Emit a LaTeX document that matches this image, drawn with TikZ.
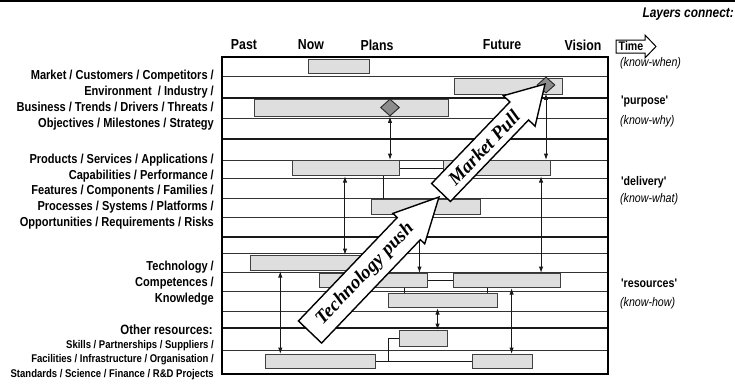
\documentclass[tikz,border=0pt]{standalone}
\usepackage{fontspec}
\setmainfont{Liberation Serif}
\newfontfamily\narrow[FakeStretch=0.85]{Liberation Sans}
\usetikzlibrary{calc,shapes.geometric,arrows.meta}

\begin{document}
\begin{tikzpicture}[x=1pt,y=-1pt,
  lbl/.style={font=\narrow\bfseries\fontsize{13}{15.8}\selectfont, align=right, anchor=east, inner sep=0},
  small/.style={font=\narrow\bfseries\fontsize{11.2}{14.3}\selectfont, align=right, anchor=east, inner sep=0},
  head/.style={font=\narrow\bfseries\fontsize{14.5}{16}\selectfont, inner sep=0},
  layer/.style={font=\narrow\bfseries\fontsize{12.5}{14}\selectfont, anchor=west, inner sep=0},
  know/.style={font=\narrow\itshape\fontsize{12.5}{14}\selectfont, anchor=west, inner sep=0},
  bar/.style={draw=black!75, line width=1.1pt, fill=black!13, anchor=north west, inner sep=0},
  dia/.style={diamond, draw=black!85, fill=black!45, line width=0.9pt, inner sep=0, minimum width=19pt, minimum height=17pt},
  grid/.style={draw=black!80, line width=1pt},
  sep/.style={draw=black!90, line width=1.6pt},
  conn/.style={draw=black!90, line width=1pt},
  dbl/.style={conn, {Latex[length=6.5pt,width=4.5pt]}-{Latex[length=6.5pt,width=4.5pt]}},
  sgl/.style={conn, -{Latex[length=6.5pt,width=4.5pt]}},
  bigarrow/.style={draw=black, line width=1.4pt, fill=white, line join=miter},
  arrowtxt/.style={font=\bfseries\itshape\fontsize{19}{19}\selectfont, transform shape, inner sep=0}
]
\useasboundingbox (0,0) rectangle (735,383);
\fill (0,0) rectangle (735,2);

% row lines of the roadmap grid
\foreach \yy in {76,118,160,178,198,217,253,272,291,311,350}
  \draw[grid] (221,\yy) -- (607,\yy);
\foreach \yy in {98,139,237,328}
  \draw[sep] (221,\yy) -- (607,\yy);
\node[draw, line width=1.7pt, minimum width=386pt, minimum height=317pt, anchor=north west, inner sep=0] (frame) at (221,56) {};

% time axis headings
\node[head] (past) at (244,45) {Past};
\node[head] (now) at (311,45) {Now};
\node[head] (plans) at (377,45) {Plans};
\node[head] (future) at (502,45) {Future};
\node[head] (vision) at (583,45) {Vision};

% layer labels on the left
\node[lbl] (mkt) at (214,100) {Market / Customers / Competitors /\\Environment\ \ / Industry /\\Business / Trends / Drivers / Threats /\\Objectives / Milestones / Strategy};
\node[lbl] (prod) at (214,191.5) {Products / Services / Applications /\\Capabilities / Performance /\\Features / Components / Families /\\Processes / Systems / Platforms /\\Opportunities / Requirements / Risks};
\node[lbl] (tech) at (214,283) {Technology /\\Competences /\\Knowledge};
\node[lbl, font=\narrow\bfseries\fontsize{13.5}{15.8}\selectfont] (other) at (213,330) {Other resources:};
\node[small] (skills) at (214,360) {Skills / Partnerships / Suppliers /\\Facilities / Infrastructure / Organisation /\\Standards / Science / Finance / R\&D Projects};

% layer labels on the right
\node[font=\narrow\bfseries\itshape\fontsize{14}{16}\selectfont, anchor=east, inner sep=0] (lc) at (734,14) {Layers connect:};
\draw[line width=1pt, line join=miter] (616,40) -- (645,40) -- (645,35) -- (656,46.5) -- (645,58) -- (645,53) -- (616,53) -- cycle;
\node[font=\narrow\bfseries\fontsize{12.5}{14}\selectfont, inner sep=0] (time) at (631,46.5) {Time};
\node[know] (kwhen) at (620,63) {(know-when)};
\node[layer] (purp) at (621,101) {'purpose'};
\node[know] (kwhy) at (620,121) {(know-why)};
\node[layer] (deliv) at (621,182) {'delivery'};
\node[know] (kwhat) at (620,199) {(know-what)};
\node[layer] (res) at (621,283) {'resources'};
\node[know] (khow) at (620,303) {(know-how)};

% bars
\node[bar, minimum width=61pt, minimum height=14pt] (b1) at (308,59) {};
\node[bar, minimum width=108pt, minimum height=16pt] (b2) at (454,78) {};
\node[bar, minimum width=194pt, minimum height=17pt] (b3) at (254,99) {};
\node[bar, minimum width=107pt, minimum height=15pt] (bA) at (292,160) {};
\node[bar, minimum width=107pt, minimum height=15pt] (bB) at (443,160) {};
\node[bar, minimum width=109pt, minimum height=15pt] (bC) at (371,199) {};
\node[bar, minimum width=120pt, minimum height=15pt] (bD) at (250,255) {};
\node[bar, minimum width=108pt, minimum height=14pt] (bE) at (319,273) {};
\node[bar, minimum width=107pt, minimum height=14pt] (bF) at (453,273) {};
\node[bar, minimum width=109pt, minimum height=14pt] (bG) at (388,293) {};
\node[bar, minimum width=48pt, minimum height=16pt] (bH) at (399,330) {};
\node[bar, minimum width=110pt, minimum height=14pt] (bI) at (265,354) {};
\node[bar, minimum width=60pt, minimum height=14pt] (bJ) at (472,354) {};

% milestones
\node[dia] (d1) at (390,107.5) {};
\node[dia, minimum width=18pt, minimum height=16pt] (d2) at (546,85) {};

% links between layers
\draw[dbl] (d1.south) -- (d1.south |- bA.north);
\draw[dbl] (d2.south) -- (d2.south |- bB.north);
\draw[conn] (bA.east) -- (bB.west);
\draw[conn] ($(bA.south west)!0.85!(bA.south east)$) coordinate (ac) -- (ac |- bC.north);
\draw[dbl] ($(bA.south west)!0.49!(bA.south east)$) coordinate (ad) -- (ad |- bD.north);
\draw[dbl] ($(bB.south west)!0.907!(bB.south east)$) coordinate (bf) -- (bf |- bF.north);
\draw[sgl] ($(bC.south west)!0.44!(bC.south east)$) coordinate (ce) -- (ce |- bE.north);
\draw[conn] (bE.east) -- (bF.west);
\draw[conn] ($(bE.south west)!0.787!(bE.south east)$) coordinate (eg) -- (eg |- bG.north);
\draw[conn] ($(bF.south west)!0.318!(bF.south east)$) coordinate (fg) -- (fg |- bG.north);
\draw[dbl] ($(bG.south west)!0.45!(bG.south east)$) coordinate (gh) -- (gh |- bH.north);
\draw[dbl] ($(bD.south west)!0.25!(bD.south east)$) coordinate (di) -- (di |- bI.north);
\draw[dbl] ($(bF.south west)!0.542!(bF.south east)$) coordinate (fj) -- (fj |- bJ.north);
\draw[conn] (bI.east) -- ++(12,0) coordinate (jn) |- (bH.west);
\draw[conn] (jn) -- (bJ.west);

% technology push
\begin{scope}[shift={(310,332)}, rotate=46.3]
  \draw[bigarrow] (0,-16) -- (143,-16) -- (143,-22) -- (186.7,0) -- (143,22) -- (143,16) -- (0,16) -- cycle;
  \node[arrowtxt] (tpush) at (80,0) {Technology push};
\end{scope}

% market pull
\begin{scope}[shift={(441,192.5)}, rotate=46.2]
  \draw[bigarrow] (0,-13) -- (113,-13) -- (113,-22) -- (150.3,0) -- (113,22) -- (113,13) -- (0,13) -- cycle;
  \node[arrowtxt] (mpull) at (62,0) {Market Pull};
\end{scope}
\end{tikzpicture}
\end{document}
